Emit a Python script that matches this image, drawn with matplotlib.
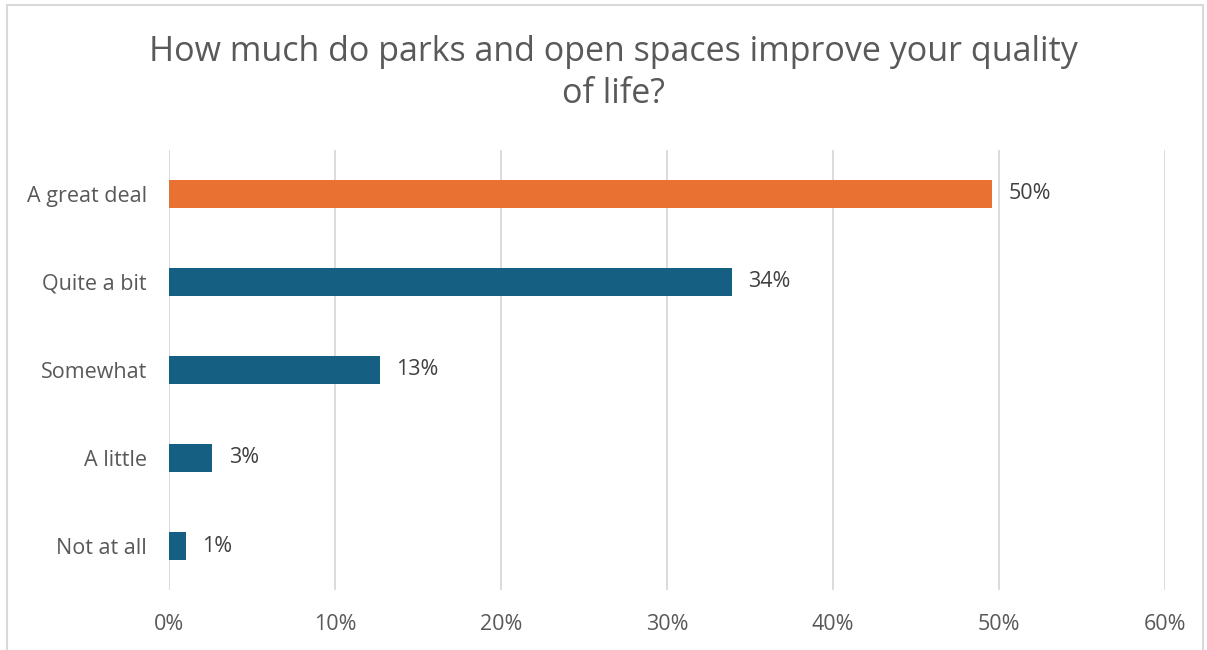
import matplotlib
matplotlib.use("Agg")
from matplotlib import pyplot as plt
from matplotlib.patches import Rectangle

categories = ["A great deal", "Quite a bit", "Somewhat", "A little", "Not at all"]
values = [49.6, 33.9, 12.7, 2.6, 1.0]
value_labels = ["50%", "34%", "13%", "3%", "1%"]
bar_colors = ["#E97132", "#156082", "#156082", "#156082", "#156082"]
xticks = [0, 10, 20, 30, 40, 50, 60]

plt.rcParams['font.family'] = ['Open Sans', 'DejaVu Sans']

fig = plt.figure(figsize=(12.07, 6.5), dpi=100)
ax = fig.add_axes([0.140, 0.0923, 0.825, 0.677])

ypos = list(range(len(categories)))
ax.barh(ypos, values, height=0.32, color=bar_colors, zorder=3)
for y, v, lab in zip(ypos, values, value_labels):
    ax.text(v + 1.0, y, lab, va="center", ha="left", fontsize=15.5, color="#404040")

ax.set_xlim(0, 60)
ax.set_ylim(4.5, -0.5)
ax.set_xticks(xticks)
ax.set_xticklabels([f"{t}%" for t in xticks])
ax.set_yticks(ypos)
ax.set_yticklabels(categories)
ax.tick_params(axis="both", length=0, labelsize=15.5, labelcolor="#595959")
ax.tick_params(axis="x", pad=17)
ax.tick_params(axis="y", pad=16)
ax.grid(axis="x", color="#D9D9D9", linewidth=1.3, zorder=0)
for s in ax.spines.values():
    s.set_visible(False)

fig.text(0.508, 0.888, "How much do parks and open spaces improve your quality\nof life?",
         ha="center", va="center", fontsize=24.5, color="#595959", linespacing=1.3)

# chart border
fig.patches.append(Rectangle((7 / 1207, -0.01), 1196 / 1207, 1 - 5 / 650 + 0.01,
                             transform=fig.transFigure, fill=False,
                             edgecolor="#D9D9D9", linewidth=1.5))

fig.savefig("out.png", dpi=100, facecolor="white")
